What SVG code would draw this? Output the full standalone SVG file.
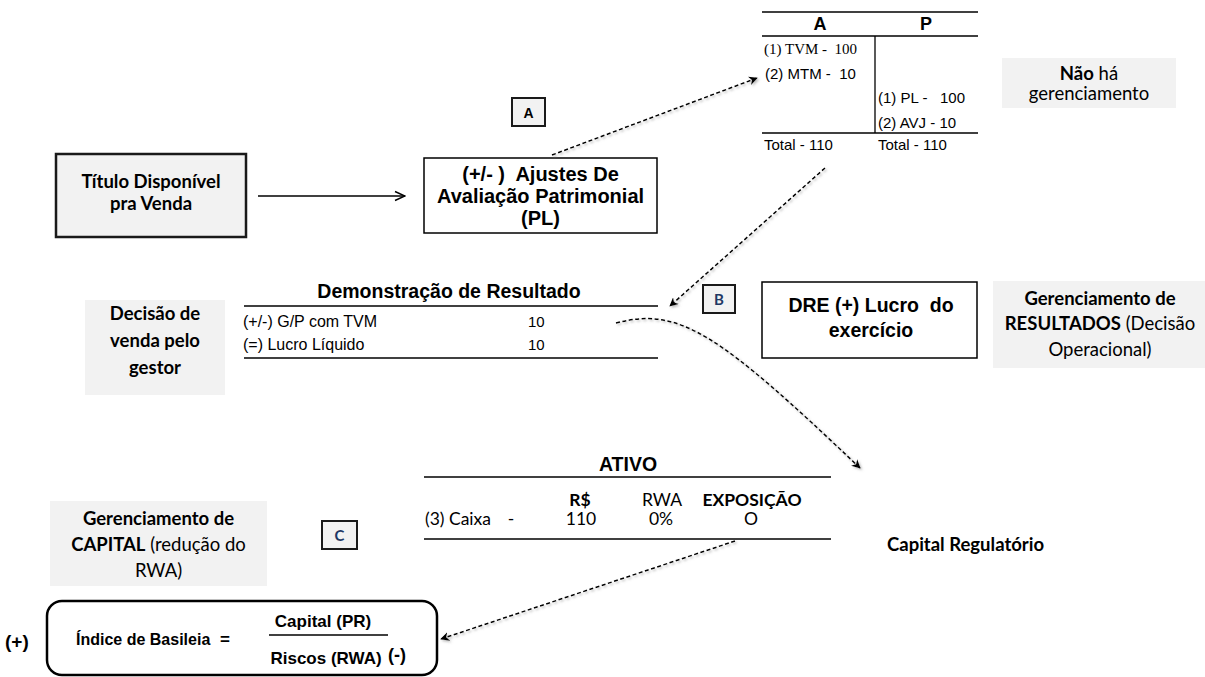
<svg xmlns="http://www.w3.org/2000/svg" width="1205" height="677" viewBox="0 0 1205 677">
<style>
.ar{font-family:"Liberation Sans",Arial,sans-serif;fill:#000}
.tm{font-family:"Liberation Serif","Times New Roman",serif;fill:#000}
.cb{font-family:Lato,"Noto Sans",sans-serif;fill:#000}
.b{font-weight:bold}
.grey{fill:#f2f2f2;stroke:none}
.box{fill:#fff;stroke:#000;stroke-width:1.5}
.tag{fill:#f2f2f2;stroke:#1a1a1a;stroke-width:2}
.ln{stroke:#000;stroke-width:1.3}
.dash{fill:none;stroke:#000;stroke-width:1.5;stroke-dasharray:4 2.5}
.navy{fill:#1f3864}
</style>
<defs>
<marker id="ah" viewBox="0 0 10 10" refX="9" refY="5" markerWidth="9" markerHeight="9" markerUnits="userSpaceOnUse" orient="auto"><path d="M0,0 L10,5 L0,10 L3,5 Z" fill="#000"/></marker>
<marker id="ao" viewBox="0 0 12 12" refX="11" refY="6" markerWidth="12" markerHeight="12" markerUnits="userSpaceOnUse" orient="auto"><path d="M1,1.5 L11,6 L1,10.5" fill="none" stroke="#000" stroke-width="1.5"/></marker>
<filter id="sh" x="-10%" y="-10%" width="120%" height="120%">
<feDropShadow dx="1.5" dy="1.5" stdDeviation="0.8" flood-color="#888" flood-opacity="0.6"/>
</filter>
</defs>
<rect width="1205" height="677" fill="#fff"/>

<g id="t-account">
<line class="ln" x1="762" y1="12" x2="978" y2="12"/>
<text class="ar b" x="820" y="30" font-size="18" text-anchor="middle">A</text>
<text class="ar b" x="926" y="30" font-size="18" text-anchor="middle">P</text>
<line class="ln" x1="762" y1="36" x2="978" y2="36"/>
<line class="ln" x1="875" y1="36" x2="875" y2="133"/>
<text class="tm" x="764" y="54" font-size="15" xml:space="preserve">(1) TVM -  100</text>
<text class="ar" x="765" y="79" font-size="15" xml:space="preserve">(2) MTM -  10</text>
<text class="ar" x="878" y="103" font-size="15" xml:space="preserve">(1) PL -   100</text>
<text class="ar" x="878" y="128" font-size="15">(2) AVJ - 10</text>
<line class="ln" x1="762" y1="133" x2="978" y2="133"/>
<text class="ar" x="764" y="150" font-size="15">Total - 110</text>
<text class="ar" x="878" y="150" font-size="15">Total - 110</text>
</g>

<g id="nao-ha">
<rect class="grey" x="1002" y="58" width="174" height="50"/>
<text class="cb" x="1089" y="80" font-size="18.5" text-anchor="middle"><tspan font-weight="bold">Não</tspan> há</text>
<text class="cb" x="1089" y="100" font-size="18.5" text-anchor="middle">gerenciamento</text>
</g>

<g id="tag-a">
<rect class="tag" x="512" y="98" width="33" height="28"/>
<text class="ar b" x="528.5" y="117.5" font-size="14" text-anchor="middle">A</text>
</g>

<g id="ajustes">
<rect class="box" x="424" y="158" width="233" height="75"/>
<text class="ar b" x="540.5" y="181" font-size="20" text-anchor="middle" xml:space="preserve">(+/- )  Ajustes De</text>
<text class="ar b" x="540.5" y="203" font-size="20" text-anchor="middle">Avaliação Patrimonial</text>
<text class="ar b" x="540.5" y="225" font-size="20" text-anchor="middle">(PL)</text>
</g>

<g id="titulo">
<rect x="56" y="154" width="190" height="83" fill="#f2f2f2" stroke="#1a1a1a" stroke-width="2.5"/>
<text class="cb b" x="151" y="188" font-size="18.5" text-anchor="middle">Título Disponível</text>
<text class="cb b" x="151" y="210" font-size="18.5" text-anchor="middle">pra Venda</text>
</g>

<g id="demonstracao">
<text class="ar b" x="449" y="298" font-size="19.5" text-anchor="middle">Demonstração de Resultado</text>
<line class="ln" x1="244" y1="306" x2="658" y2="306"/>
<text class="ar" x="243" y="327" font-size="16">(+/-) G/P com TVM</text>
<text class="ar" x="528" y="327" font-size="15">10</text>
<text class="ar" x="243" y="350" font-size="16">(=) Lucro Líquido</text>
<text class="ar" x="528" y="350" font-size="15">10</text>
<line class="ln" x1="244" y1="358" x2="658" y2="358"/>
</g>

<g id="decisao">
<rect class="grey" x="85" y="300" width="140" height="95"/>
<text class="cb b" x="155" y="320" font-size="18.5" text-anchor="middle">Decisão de</text>
<text class="cb b" x="155" y="347" font-size="18.5" text-anchor="middle">venda pelo</text>
<text class="cb b" x="155" y="374" font-size="18.5" text-anchor="middle">gestor</text>
</g>

<g id="tag-b">
<rect class="tag" x="703" y="285" width="32" height="28"/>
<text class="cb b navy" x="719" y="305" font-size="15" text-anchor="middle">B</text>
</g>

<g id="dre">
<rect class="box" x="762" y="282" width="215" height="76"/>
<text class="ar b" x="871" y="312" font-size="19.5" text-anchor="middle" xml:space="preserve">DRE (+) Lucro  do</text>
<text class="ar b" x="871" y="337" font-size="19.5" text-anchor="middle">exercício</text>
</g>

<g id="ger-resultados">
<rect class="grey" x="993" y="281" width="212" height="87"/>
<text class="cb b" x="1100" y="305" font-size="18.5" text-anchor="middle">Gerenciamento de</text>
<text class="cb" x="1100" y="330" font-size="18.5" text-anchor="middle"><tspan font-weight="bold">RESULTADOS</tspan> (Decisão</text>
<text class="cb" x="1100" y="356" font-size="18.5" text-anchor="middle">Operacional)</text>
</g>

<g id="ativo">
<text class="ar b" x="628" y="471" font-size="19.5" text-anchor="middle">ATIVO</text>
<line class="ln" x1="424" y1="477" x2="831" y2="477"/>
<text class="cb b" x="580" y="506" font-size="17.5" text-anchor="middle">R$</text>
<text class="cb" x="662" y="506" font-size="17.5" text-anchor="middle">RWA</text>
<text class="cb b" x="752" y="506" font-size="17.5" text-anchor="middle">EXPOSIÇÃO</text>
<text class="cb" x="425" y="525" font-size="17.5">(3) Caixa</text>
<text class="cb" x="511" y="525" font-size="17.5" text-anchor="middle">-</text>
<text class="cb" x="581" y="525" font-size="17.5" text-anchor="middle">110</text>
<text class="cb" x="661" y="525" font-size="17.5" text-anchor="middle">0%</text>
<text class="cb" x="751" y="525" font-size="17.5" text-anchor="middle">O</text>
<line class="ln" x1="424" y1="539" x2="831" y2="539"/>
</g>

<g id="capital-regulatorio">
<text class="cb b" x="887" y="551" font-size="18.5">Capital Regulatório</text>
</g>

<g id="ger-capital">
<rect class="grey" x="50" y="501" width="217" height="85"/>
<text class="cb b" x="158.5" y="525" font-size="18.5" text-anchor="middle">Gerenciamento de</text>
<text class="cb" x="158.5" y="551" font-size="18.5" text-anchor="middle"><tspan font-weight="bold">CAPITAL</tspan> (redução do</text>
<text class="cb" x="158.5" y="577" font-size="18.5" text-anchor="middle">RWA)</text>
</g>

<g id="tag-c">
<rect class="tag" x="322" y="521" width="35" height="28"/>
<text class="cb b navy" x="339.5" y="541" font-size="15" text-anchor="middle">C</text>
</g>

<g id="basileia">
<text class="ar b" x="5" y="648" font-size="19">(+)</text>
<rect x="47" y="601" width="390" height="74" rx="15" ry="15" fill="none" stroke="#000" stroke-width="2.5"/>
<text class="ar b" x="76" y="645" font-size="16">Índice de Basileia</text>
<text class="ar b" x="225" y="645" font-size="17" text-anchor="middle">=</text>
<text class="ar b" x="323" y="627" font-size="17" text-anchor="middle">Capital (PR)</text>
<line x1="269" y1="635" x2="388" y2="635" stroke="#000" stroke-width="1.5"/>
<text class="ar b" x="326" y="664" font-size="17" text-anchor="middle">Riscos (RWA)</text>
<text class="ar b" x="388" y="661" font-size="18">(-)</text>
</g>

<g id="connectors">
<line x1="258" y1="196" x2="405" y2="196" stroke="#000" stroke-width="1.5" marker-end="url(#ao)"/>
<g filter="url(#sh)">
<line class="dash" x1="552" y1="155" x2="757" y2="78" marker-end="url(#ah)"/>
<line class="dash" x1="825" y1="168" x2="670" y2="306" marker-end="url(#ah)"/>
<path class="dash" d="M616,323 C680,306 720,335 860,468" marker-end="url(#ah)"/>
<line class="dash" x1="735" y1="541" x2="441" y2="639" marker-end="url(#ah)"/>
</g>
</g>
</svg>
